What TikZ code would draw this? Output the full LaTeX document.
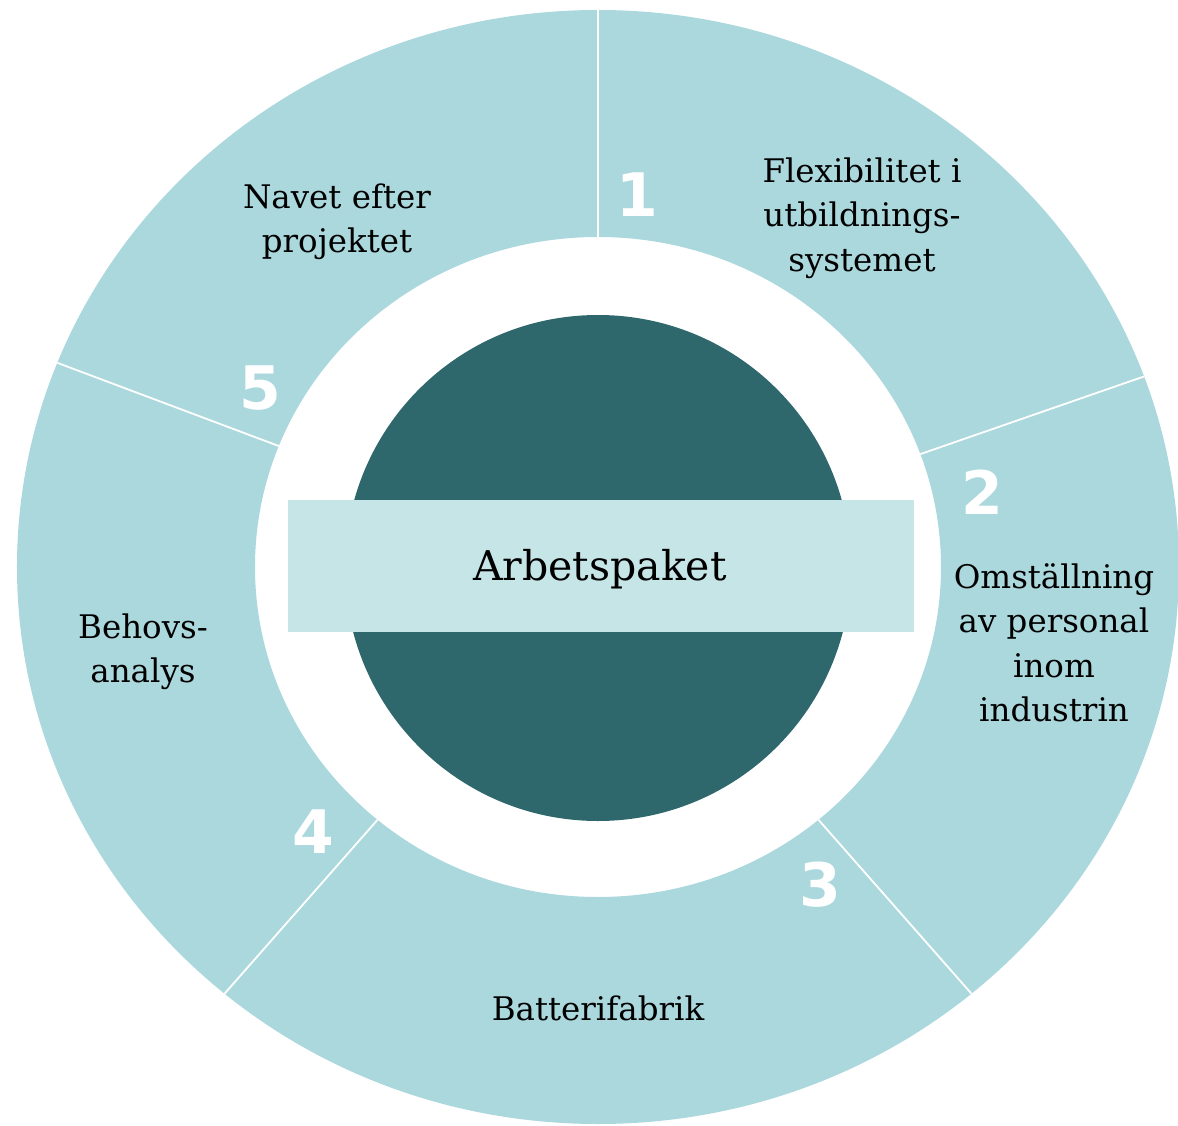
\documentclass[tikz,border=0pt]{standalone}
\usepackage{fontspec}
\setmainfont{DejaVu Serif}
\newfontfamily\numfont{DejaVu Sans}
\usetikzlibrary{positioning}
\definecolor{ringTeal}{HTML}{ABD8DD}
\definecolor{coreTeal}{HTML}{2E686C}
\definecolor{bandTeal}{HTML}{C5E5E7}

\begin{document}
\begin{tikzpicture}[
    x=1pt, y=1pt,
    wplabel/.style={align=center, text=black, inner sep=0pt,
                    font=\fontsize{32.5}{44.5}\selectfont},
    wpnum/.style={text=white, inner sep=0pt,
                  font=\numfont\bfseries\fontsize{60}{60}\selectfont},
    divider/.style={draw=white, line width=1.8pt},
    band/.style={fill=bandTeal, minimum width=626pt, minimum height=132pt,
                 inner sep=0pt, font=\fontsize{41}{48}\selectfont},
]
    \useasboundingbox (-598,-558) rectangle (580,567);

    % Ring of work packages
    \fill[ringTeal, even odd rule] (0,0) ellipse [x radius=581pt, y radius=557pt]
                                   (0,0) ellipse [x radius=343pt, y radius=330pt];
    \foreach \ang in {90,20,-50,-130,158.5}
        \draw[divider] ({343*cos(\ang)},{330*sin(\ang)}) -- ({581*cos(\ang)},{557*sin(\ang)});

    % Centre
    \fill[coreTeal] (0,-1) circle [radius=253pt];
    \node[band] (core) at (3,1) {};
    \node[font=\fontsize{41}{48}\selectfont, inner sep=0pt] (title) at (2,-2) {Arbetspaket};

    % Numbers
    \node[wpnum] (num1) at (39,372) {1};
    \node[wpnum] (num2) at (384,75) {2};
    \node[wpnum] (num3) at (222,-318) {3};
    \node[wpnum] (num4) at (-285,-265) {4};
    \node[wpnum] (num5) at (-338,179) {5};

    % Labels
    \node[wplabel] (wp1) at (264,349) {Flexibilitet i\\utbildnings-\\systemet};
    \node[wplabel] (wp2) at (456,-76) {Omställning\\av personal\\inom\\industrin};
    \node[wplabel] (wp3) at (0,-441) {Batterifabrik};
    \node[wplabel] (wp4) at (-455,-85) {Behovs-\\analys};
    \node[wplabel] (wp5) at (-261,345) {Navet efter\\projektet};
\end{tikzpicture}
\end{document}
